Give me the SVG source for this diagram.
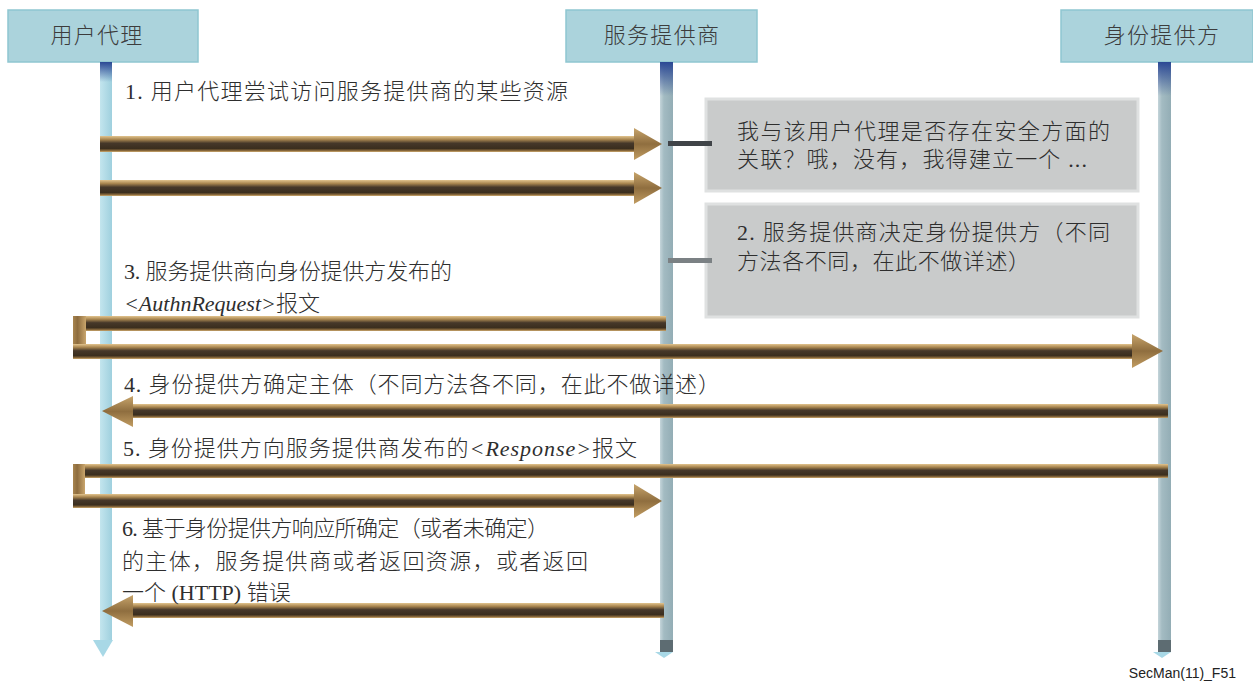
<svg xmlns="http://www.w3.org/2000/svg" width="1253" height="682" viewBox="0 0 1253 682">
<defs>
<style>
.hdr{fill:#abd3dc;stroke:#8fc6d1;stroke-width:1.5}
.hdrt{font-family:"Noto Sans CJK SC",sans-serif;font-size:22px;font-weight:300;fill:#3c3c3c;text-anchor:middle;letter-spacing:1.3px}
.lbl{font-family:"Liberation Serif","Noto Sans CJK SC",serif;font-size:22px;font-weight:300;fill:#2e2e2e}
.it{font-style:italic}
.note{fill:#c9cbcb;stroke:#dfe1e1;stroke-width:3}
.bar{fill:url(#gb)}
.vbar{fill:url(#gv)}
.head{fill:url(#gh)}
.llu{fill:url(#gu)}
.lls{fill:url(#gs)}
.foot{font-family:"Liberation Sans",Arial,sans-serif;font-size:14px;fill:#222;text-anchor:end}
</style>
<linearGradient id="gb" x1="0" y1="0" x2="0" y2="1">
<stop offset="0" stop-color="#e2c48e"/>
<stop offset="0.22" stop-color="#a8854f"/>
<stop offset="0.45" stop-color="#46382a"/>
<stop offset="0.78" stop-color="#3b2e1e"/>
<stop offset="0.92" stop-color="#8c6b3d"/>
<stop offset="1" stop-color="#d1ae74"/>
</linearGradient>
<linearGradient id="gv" x1="0" y1="0" x2="1" y2="0">
<stop offset="0" stop-color="#a8854f"/>
<stop offset="0.35" stop-color="#8d6c3e"/>
<stop offset="1" stop-color="#c9a56c"/>
</linearGradient>
<linearGradient id="gh" x1="0" y1="0" x2="0" y2="1">
<stop offset="0" stop-color="#c7a46b"/>
<stop offset="0.5" stop-color="#8f6e3f"/>
<stop offset="1" stop-color="#c29d62"/>
</linearGradient>
<linearGradient id="gu" x1="0" y1="0" x2="1" y2="0">
<stop offset="0" stop-color="#c3e5ee"/>
<stop offset="1" stop-color="#9fd0de"/>
</linearGradient>
<linearGradient id="gs" x1="0" y1="0" x2="1" y2="0">
<stop offset="0" stop-color="#c5d5da"/>
<stop offset="0.3" stop-color="#a3bbc2"/>
<stop offset="1" stop-color="#93adb5"/>
</linearGradient>
<linearGradient id="gtop" x1="0" y1="0" x2="0" y2="1">
<stop offset="0" stop-color="#2b4894"/>
<stop offset="1" stop-color="#2b4894" stop-opacity="0"/>
</linearGradient>
</defs>
<rect width="1253" height="682" fill="#ffffff"/>

<g id="user-agent">
<rect class="hdr" x="8" y="10" width="190" height="52"/>
<text class="hdrt" x="97" y="43">用户代理</text>
<rect class="llu" x="100" y="62" width="12" height="578"/>
<rect x="100" y="62" width="12" height="20" fill="url(#gtop)"/>
<polygon points="93,640 113,640 103,657" fill="#a8d8e6"/>
</g>

<g id="service-provider">
<rect class="hdr" x="566" y="10" width="191" height="52"/>
<text class="hdrt" x="662" y="43">服务提供商</text>
<rect class="lls" x="660" y="62" width="13" height="590"/>
<rect x="660" y="62" width="13" height="34" fill="url(#gtop)"/>
<rect x="660" y="640" width="13" height="12" fill="#5d6c72"/>
<polygon points="655,652 673,652 664,658" fill="#a8d8e6"/>
</g>

<g id="identity-provider">
<rect class="hdr" x="1061" y="10" width="192" height="52"/>
<text class="hdrt" x="1162" y="43">身份提供方</text>
<rect class="lls" x="1158" y="62" width="13" height="590"/>
<rect x="1158" y="62" width="13" height="34" fill="url(#gtop)"/>
<rect x="1158" y="640" width="13" height="12" fill="#5d6c72"/>
<polygon points="1153,652 1171,652 1162,658" fill="#a8d8e6"/>
</g>

<g id="note-1">
<rect class="note" x="706" y="99" width="432" height="92"/>
<text class="lbl" x="737" y="139" textLength="373" lengthAdjust="spacing">我与该用户代理是否存在安全方面的</text>
<text class="lbl" x="737" y="167" textLength="350" lengthAdjust="spacing">关联？哦，没有，我得建立一个 ...</text>
</g>

<g id="note-2">
<rect class="note" x="706" y="204" width="432" height="113"/>
<text class="lbl" x="737" y="240" textLength="373" lengthAdjust="spacing">2. 服务提供商决定身份提供方（不同</text>
<text class="lbl" x="737" y="269" textLength="293" lengthAdjust="spacing">方法各不同，在此不做详述）</text>
</g>

<g id="connectors">
<rect x="668" y="141" width="44" height="5" fill="#404448"/>
<rect x="668" y="258" width="44" height="5" fill="#7b8184"/>
<rect class="bar" x="100" y="136" width="538" height="16"/>
<polygon class="head" points="634,128 662,144 634,160"/>
<rect class="bar" x="100" y="180" width="538" height="16"/>
<polygon class="head" points="634,172 662,188 634,204"/>
<rect class="bar" x="73" y="316" width="593" height="15"/>
<rect class="vbar" x="73" y="316" width="13" height="43"/>
<rect class="bar" x="73" y="344" width="1064" height="15"/>
<polygon class="head" points="1132,334 1163,351 1132,368"/>
<rect class="bar" x="128" y="404" width="1040" height="14"/>
<polygon class="head" points="133,396 102,411 133,427"/>
<rect class="bar" x="73" y="464" width="1095" height="14"/>
<rect class="vbar" x="73" y="464" width="12" height="44"/>
<rect class="bar" x="73" y="494" width="566" height="14"/>
<polygon class="head" points="634,484 662,501 634,518"/>
<rect class="bar" x="128" y="603" width="536" height="15"/>
<polygon class="head" points="133,595 102,611 133,627"/>
</g>

<g id="labels">
<text class="lbl" x="125" y="99" textLength="443" lengthAdjust="spacing">1. 用户代理尝试访问服务提供商的某些资源</text>
<text class="lbl" x="124" y="279" textLength="328" lengthAdjust="spacing">3. 服务提供商向身份提供方发布的</text>
<text class="lbl" x="124" y="311"><tspan class="it">&lt;AuthnRequest&gt;</tspan>报文</text>
<text class="lbl" x="124" y="392" textLength="596" lengthAdjust="spacing">4. 身份提供方确定主体（不同方法各不同，在此不做详述）</text>
<text class="lbl" x="123" y="456" textLength="514" lengthAdjust="spacing">5. 身份提供方向服务提供商发布的<tspan class="it">&lt;Response&gt;</tspan>报文</text>
<text class="lbl" x="122" y="536" textLength="427" lengthAdjust="spacing">6. 基于身份提供方响应所确定（或者未确定）</text>
<text class="lbl" x="122" y="569" textLength="466" lengthAdjust="spacing">的主体，服务提供商或者返回资源，或者返回</text>
<text class="lbl" x="122" y="600">一个 (HTTP) 错误</text>
</g>

<text class="foot" x="1236" y="678">SecMan(11)_F51</text>
</svg>
